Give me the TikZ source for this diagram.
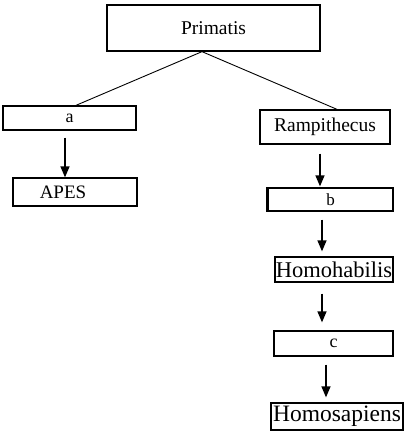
\documentclass[tikz,border=0pt]{standalone}
\usepackage{fontspec}
\setmainfont{Liberation Serif}
\usetikzlibrary{arrows.meta,calc}
\newcommand{\fs}[1]{\fontsize{#1}{#1}\selectfont}

\begin{document}
\begin{tikzpicture}[x=1pt,y=-1pt,>={Triangle[width=9pt,length=11pt]},
  box/.style={draw,line width=1.3pt,inner sep=0pt},
  branch/.style={line width=0.9pt},
  arr/.style={->,line width=1.4pt}]
  \useasboundingbox (0,0) rectangle (409,434);

  \node[box,minimum width=213pt,minimum height=46pt,font=\fs{19.5}] (prim) at (213.5,28) {Primatis};
  \node[box,minimum width=133pt,minimum height=24pt,font=\fs{18}] (a) at (69.5,118) {a};
  \node[box,minimum width=124pt,minimum height=28pt,font=\fs{19}] (apes) at (75,192) {\hspace*{-24pt}APES};
  \node[box,minimum width=130pt,minimum height=34pt,font=\fs{19.5}] (ramp) at (325,127) {Rampithecus};
  \node[box,minimum width=125pt,minimum height=23pt,font=\fs{17}] (b) at (330.5,199.5) {b};
  \node[box,minimum width=118pt,minimum height=25pt,font=\fs{22.5}] (habilis) at (334,269.5) {Homohabilis};
  \node[box,minimum width=119pt,minimum height=25pt,font=\fs{18}] (c) at (333.5,343.5) {c};
  \node[box,minimum width=132pt,minimum height=27pt,font=\fs{23.5}] (sapiens) at (337,416.5) {Homosapiens};
  \draw[line width=2.6pt] (b.north west) -- (b.south west);

  % branches from the root
  \draw[branch] ([xshift=-11.5pt]prim.south) -- ([xshift=6.5pt]a.north);
  \draw[branch] ([xshift=-11.5pt]prim.south) -- ([xshift=12pt]ramp.north);

  % chains
  \draw[arr,shorten <=7pt] ([xshift=-4.5pt]a.south) -- ([xshift=-4.5pt]a.south |- apes.north);
  \draw[arr,shorten <=9pt,shorten >=1pt] ([xshift=-5pt]ramp.south) -- ([xshift=-5pt]ramp.south |- b.north);
  \draw[arr,shorten <=8pt,shorten >=5pt] ([xshift=-8.5pt]b.south) -- ([xshift=-8.5pt]b.south |- habilis.north);
  \draw[arr,shorten <=11pt,shorten >=8pt] ([xshift=-12pt]habilis.south) -- ([xshift=-12pt]habilis.south |- c.north);
  \draw[arr,shorten <=8pt,shorten >=5pt] ([xshift=-7.5pt]c.south) -- ([xshift=-7.5pt]c.south |- sapiens.north);
\end{tikzpicture}
\end{document}
